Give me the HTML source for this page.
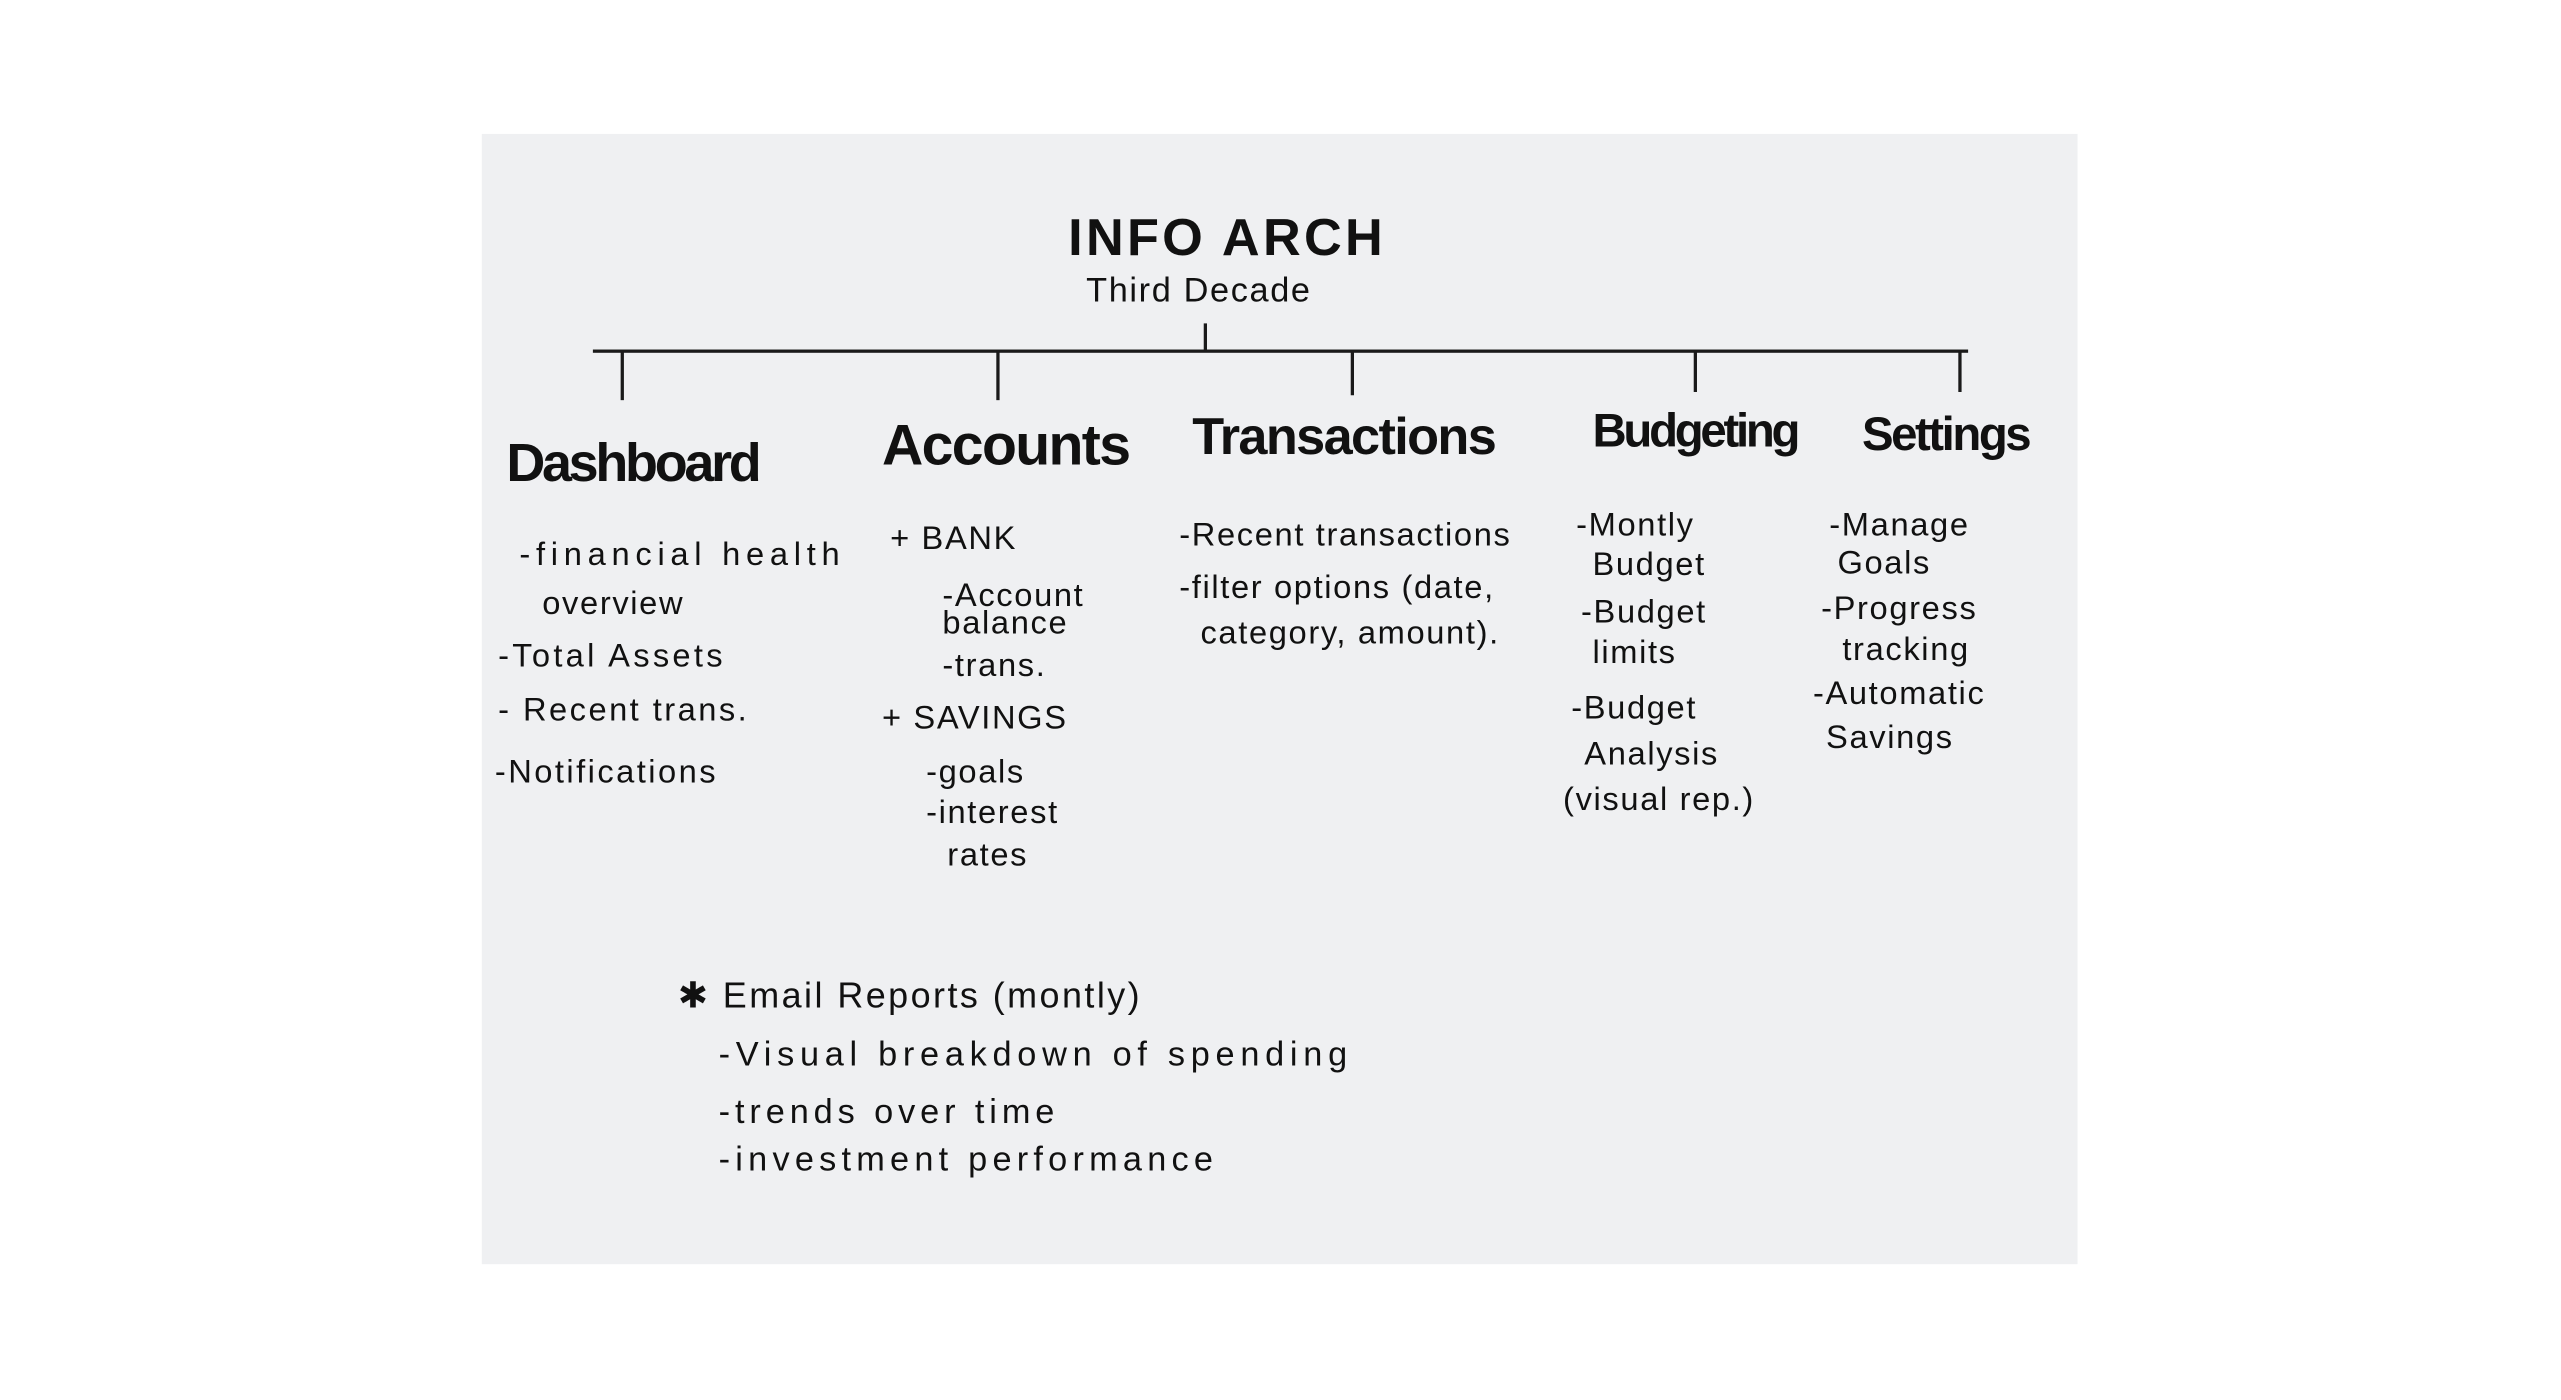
<!DOCTYPE html>
<html><head><meta charset="utf-8"><style>
html,body{margin:0;padding:0;background:#fff;width:2561px;height:1400px;overflow:hidden}
#s{position:absolute;left:0;top:0;width:1568px;height:857px;transform:scale(1.63329);transform-origin:0 0}
#paper{position:absolute;left:295px;top:82px;width:977px;height:692px;background:#eff0f2}
.t{position:absolute;font-family:"Liberation Sans",sans-serif;color:#111;white-space:nowrap;font-size:20px;letter-spacing:1px;line-height:1;transform:translateY(-50%)}
.h{font-weight:bold;font-size:36px;letter-spacing:-1px}
.l{position:absolute;background:#1a1a1a}
</style></head><body><div id="s">
<div id="paper"></div>
<div class="t" style="left:654px;top:145px;font-size:32px;font-weight:bold;letter-spacing:2px">INFO ARCH</div>
<div class="t" style="left:665px;top:178px;font-size:21px">Third Decade</div>
<div class="l" style="left:363px;top:214px;width:842px;height:2px"></div>
<div class="l" style="left:737px;top:198px;width:2px;height:17px"></div>
<div class="l" style="left:380px;top:215px;width:2px;height:30px"></div>
<div class="l" style="left:610px;top:215px;width:2px;height:30px"></div>
<div class="l" style="left:827px;top:215px;width:2px;height:27px"></div>
<div class="l" style="left:1037px;top:215px;width:2px;height:25px"></div>
<div class="l" style="left:1199px;top:215px;width:2px;height:25px"></div>
<div class="t h" style="left:310px;top:283px;font-size:33px;letter-spacing:-2px">Dashboard</div>
<div class="t h" style="left:540px;top:273px;font-size:35px">Accounts</div>
<div class="t h" style="left:730px;top:267px;font-size:32px">Transactions</div>
<div class="t h" style="left:975px;top:265px;font-size:29px;letter-spacing:-2px">Budgeting</div>
<div class="t h" style="left:1140px;top:267px;font-size:29px;letter-spacing:-1.5px">Settings</div>

<div class="t" style="left:318px;top:340px;letter-spacing:3.5px">-financial health</div>
<div class="t" style="left:332px;top:370px">overview</div>
<div class="t" style="left:305px;top:402px;letter-spacing:2px">-Total Assets</div>
<div class="t" style="left:305px;top:435px;letter-spacing:1.5px">- Recent trans.</div>
<div class="t" style="left:303px;top:473px;letter-spacing:1.5px">-Notifications</div>

<div class="t" style="left:545px;top:330px">+ BANK</div>
<div class="t" style="left:577px;top:365px">-Account</div>
<div class="t" style="left:577px;top:382px">balance</div>
<div class="t" style="left:577px;top:408px">-trans.</div>
<div class="t" style="left:540px;top:440px">+ SAVINGS</div>
<div class="t" style="left:567px;top:473px">-goals</div>
<div class="t" style="left:567px;top:498px">-interest</div>
<div class="t" style="left:580px;top:524px">rates</div>

<div class="t" style="left:722px;top:328px">-Recent transactions</div>
<div class="t" style="left:722px;top:360px">-filter options (date,</div>
<div class="t" style="left:735px;top:388px">category, amount).</div>

<div class="t" style="left:965px;top:322px">-Montly</div>
<div class="t" style="left:975px;top:346px">Budget</div>
<div class="t" style="left:968px;top:375px">-Budget</div>
<div class="t" style="left:975px;top:400px">limits</div>
<div class="t" style="left:962px;top:434px">-Budget</div>
<div class="t" style="left:970px;top:462px">Analysis</div>
<div class="t" style="left:957px;top:490px">(visual rep.)</div>

<div class="t" style="left:1120px;top:322px">-Manage</div>
<div class="t" style="left:1125px;top:345px">Goals</div>
<div class="t" style="left:1115px;top:373px">-Progress</div>
<div class="t" style="left:1128px;top:398px">tracking</div>
<div class="t" style="left:1110px;top:425px">-Automatic</div>
<div class="t" style="left:1118px;top:452px">Savings</div>

<div class="t" style="left:415px;top:610px;font-size:22px;letter-spacing:1.5px">✱ Email Reports (montly)</div>
<div class="t" style="left:440px;top:646px;font-size:21px;letter-spacing:3.5px">-Visual breakdown of spending</div>
<div class="t" style="left:440px;top:681px;font-size:21px;letter-spacing:3px">-trends over time</div>
<div class="t" style="left:440px;top:710px;font-size:21px;letter-spacing:3.2px">-investment performance</div>
</div></body></html>
